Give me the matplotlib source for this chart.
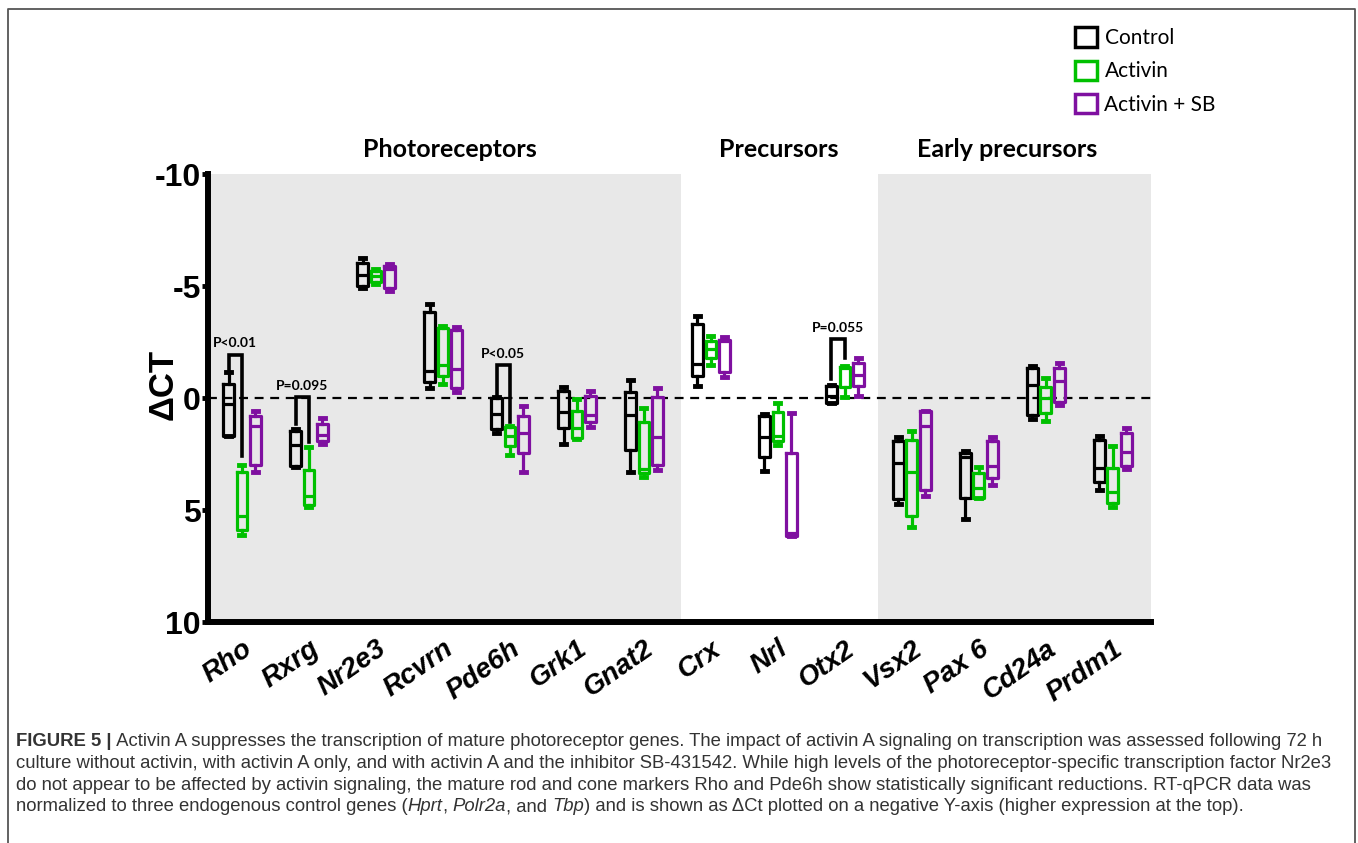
import matplotlib.pyplot as plt
from matplotlib.patches import Patch
from matplotlib.lines import Line2D

# genes on the x axis
genes = ['Rho', 'Rxrg', 'Nr2e3', 'Rcvrn', 'Pde6h', 'Grk1', 'Gnat2',
         'Crx', 'Nrl', 'Otx2', 'Vsx2', 'Pax 6', 'Cd24a', 'Prdm1']

# (min, q1, median, q3, max) of delta CT
control = [(-1.15, -0.62, 0.27, 1.68, 1.70), (1.38, 1.46, 2.10, 3.02, 3.07),
           (-6.23, -6.01, -5.49, -5.01, -4.91), (-4.20, -3.82, -1.19, -0.70, -0.45),
           (-0.03, 0.01, 0.71, 1.38, 1.58), (-0.48, -0.33, 0.61, 1.35, 2.05),
           (-0.82, -0.25, 0.76, 2.31, 3.29), (-3.68, -3.30, -1.52, -1.00, -0.55),
           (0.71, 0.82, 1.76, 2.65, 3.24), (-0.58, -0.55, -0.10, 0.22, 0.22),
           (1.73, 1.90, 2.90, 4.51, 4.73), (2.38, 2.46, 2.65, 4.46, 5.40),
           (-1.44, -1.32, -0.58, 0.74, 0.94), (1.71, 1.88, 3.13, 3.76, 4.09)]
activin = [(2.98, 3.32, 5.25, 5.88, 6.12), (2.20, 3.21, 4.36, 4.76, 4.85),
           (-5.76, -5.65, -5.43, -5.16, -5.09), (-3.23, -3.11, -1.47, -1.00, -0.63),
           (1.24, 1.31, 1.68, 2.13, 2.54), (0.04, 0.60, 1.35, 1.80, 1.82),
           (0.46, 1.06, 3.17, 3.35, 3.54), (-2.75, -2.53, -2.19, -1.79, -1.49),
           (0.24, 0.61, 1.68, 1.90, 2.08), (-1.44, -1.40, -1.32, -0.51, -0.03),
           (1.46, 1.86, 3.32, 5.25, 5.77), (3.07, 3.35, 4.03, 4.46, 4.48),
           (-0.88, -0.51, 0.01, 0.68, 1.04), (2.16, 3.13, 4.18, 4.69, 4.88)]
activin_sb = [(0.60, 0.79, 1.27, 2.98, 3.32), (0.89, 1.16, 1.64, 1.90, 2.05),
              (-5.98, -5.90, -5.76, -4.90, -4.79), (-3.15, -3.04, -1.29, -0.45, -0.28),
              (0.37, 0.82, 1.56, 2.47, 3.29), (-0.33, -0.10, 0.76, 1.09, 1.28),
              (-0.43, -0.06, 1.73, 2.99, 3.20), (-2.71, -2.60, -2.56, -1.17, -0.92),
              (0.68, 2.46, 6.03, 6.15, 6.15), (-1.77, -1.55, -1.03, -0.52, -0.10),
              (0.57, 0.60, 1.27, 4.09, 4.39), (1.73, 1.90, 3.02, 3.59, 3.88),
              (-1.55, -1.32, -0.74, 0.19, 0.31), (1.34, 1.56, 2.43, 3.02, 3.17)]

series_names = ['Control', 'Activin', 'Activin + SB']
series_colors = ['black', '#00c000', '#7f10a0']

# significance brackets: gene index, top, left leg end, right leg end, label
sig_genes = [0, 1, 4, 9]
sig_top = [-1.93, -0.03, -1.47, -2.63]
sig_left = [-1.22, 1.16, -0.03, -0.85]
sig_right = [2.60, 1.98, 1.09, -1.77]
sig_labels = ['P<0.01', 'P=0.095', 'P<0.05', 'P=0.055']

# group headers
group_names = ['Photoreceptors', 'Precursors', 'Early precursors']
group_centers = [3.1, 8.02, 11.42]

W, H = 1358, 843
fig = plt.figure(figsize=(W / 100, H / 100), dpi=100)
ax = fig.add_axes([208 / W, 1 - 622 / H, (1151 - 208) / W, (622 - 174) / H])

xmin, xmax = -0.507, 13.57
ax.set_xlim(xmin, xmax)
ax.set_ylim(10, -10)

# shaded groups
ax.axvspan(xmin, 6.55, color='#e8e8e8', lw=0, zorder=0)
ax.axvspan(9.49, xmax, color='#e8e8e8', lw=0, zorder=0)
ax.axhline(0, color='black', lw=1.6, ls=(0, (4, 3)), zorder=1)

offsets = [-0.2, 0.0, 0.2]
for data, color, off in zip([control, activin, activin_sb], series_colors, offsets):
    stats = []
    for d in data:
        stats.append({'whislo': d[0], 'q1': d[1], 'med': d[2], 'q3': d[3], 'whishi': d[4]})
    pos = [i + off for i in range(len(genes))]
    ax.bxp(stats, positions=pos, widths=0.16, showfliers=False, capwidths=0.075,
           boxprops=dict(color=color, lw=2.3),
           whiskerprops=dict(color=color, lw=2.3),
           capprops=dict(color=color, lw=3.5),
           medianprops=dict(color=color, lw=2.3),
           manage_ticks=False)

for g, top, lft, rgt, lab in zip(sig_genes, sig_top, sig_left, sig_right, sig_labels):
    x0, x1 = g - 0.2, g
    ax.plot([x0, x0, x1, x1], [lft, top, top, rgt], color='black', lw=2.6,
            solid_joinstyle='miter', zorder=3)
    ax.annotate(lab, xy=((x0 + x1) / 2, top), xytext=(0, 4), textcoords='offset points',
                ha='center', va='bottom', fontsize=10, fontweight='bold', family='Lato')

for name, cx in zip(group_names, group_centers):
    ax.text(cx, -10.6, name, ha='center', va='bottom', fontsize=18,
            fontweight='bold', family='Lato')

ax.spines['top'].set_visible(False)
ax.spines['right'].set_visible(False)
ax.spines['left'].set_linewidth(4.3)
ax.spines['bottom'].set_linewidth(4.3)

ax.set_yticks([-10, -5, 0, 5, 10])
ax.set_yticklabels(['-10', '-5', '0', '5', '10'], fontsize=23, fontweight='bold',
                   family='Liberation Sans')
ax.tick_params(axis='y', direction='out', length=4, width=3.5, pad=1)
ax.set_xticks(range(len(genes)))
ax.set_xticklabels(genes, rotation=35, ha='right', va='top', rotation_mode='anchor',
                   fontsize=20, fontweight='bold', fontstyle='italic',
                   family='Liberation Sans')
ax.tick_params(axis='x', length=0, pad=10)

ax.set_ylabel('ΔCT', fontsize=25, fontweight='bold', family='Liberation Sans')
ax.yaxis.set_label_coords(-0.03, 0.53)

handles = [Patch(facecolor='white', edgecolor=c, lw=2.5) for c in series_colors]
fig.legend(handles, series_names, loc='upper left', bbox_to_anchor=(1067 / W, 1 - 19 / H),
           frameon=False, prop={'family': 'Lato', 'size': 15}, handlelength=1.05,
           handleheight=1.05, handletextpad=0.35, labelspacing=0.6, borderaxespad=0)

# figure frame
fig.add_artist(Line2D([8 / W, 8 / W, 1355 / W, 1355 / W], [0, 1 - 9 / H, 1 - 9 / H, 0],
                      transform=fig.transFigure, color='#555555', lw=1.3))

# caption, pieces with mixed styles chained one after another
caption = [
    [('FIGURE 5 |', 'bold', 'normal'),
     (' Activin A suppresses the transcription of mature photoreceptor genes. The impact of '
      'activin A signaling on transcription was assessed following 72 h', 'normal', 'normal')],
    [('culture without activin, with activin A only, and with activin A and the inhibitor '
      'SB-431542. While high levels of the photoreceptor-specific transcription factor Nr2e3',
      'normal', 'normal')],
    [('do not appear to be affected by activin signaling, the mature rod and cone markers Rho '
      'and Pde6h show statistically significant reductions. RT-qPCR data was', 'normal', 'normal')],
    [('normalized to three endogenous control genes (', 'normal', 'normal'),
     ('Hprt', 'normal', 'italic'), (', ', 'normal', 'normal'),
     ('Polr2a', 'normal', 'italic'), (', and ', 'normal', 'normal'),
     ('Tbp', 'normal', 'italic'),
     (') and is shown as ΔCt plotted on a negative Y-axis (higher expression at the top).',
      'normal', 'normal')],
]
cap_size = 13.3
baselines = [746, 768, 789.5, 811]
for parts, yb in zip(caption, baselines):
    s, w, st = parts[0]
    t = fig.text(16 / W, 1 - yb / H, s, fontsize=cap_size, fontweight=w, fontstyle=st,
                 family='Liberation Sans', color='#333333', va='baseline')
    for s, w, st in parts[1:]:
        t = ax.annotate(s, xy=(1, 0), xycoords=t, va='bottom', ha='left', fontsize=cap_size,
                        fontweight=w, fontstyle=st, family='Liberation Sans',
                        color='#333333', annotation_clip=False)

fig.savefig('out.png', dpi=100)
